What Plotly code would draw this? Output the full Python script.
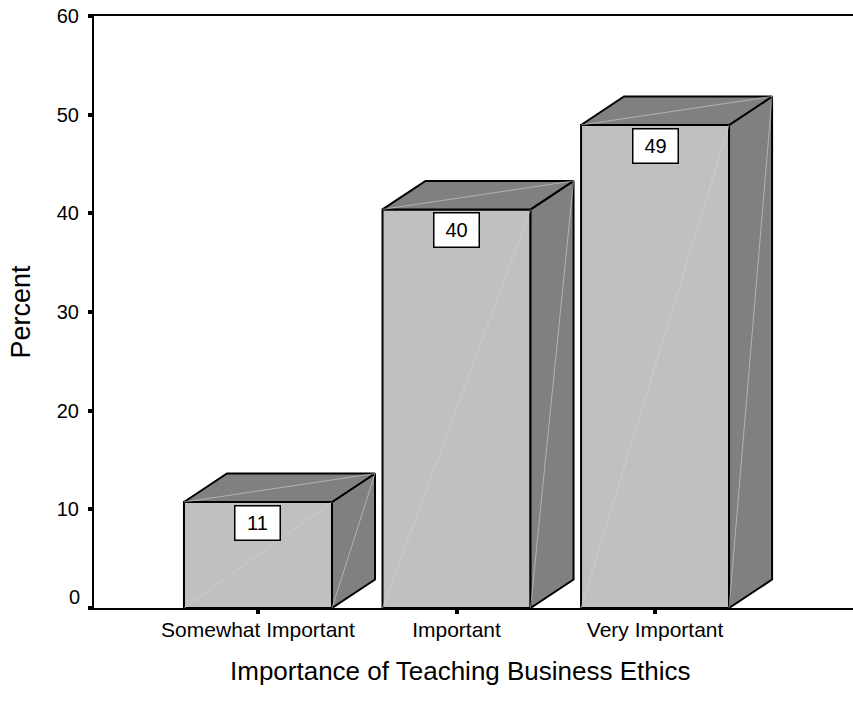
import plotly.graph_objects as go

categories = ["Somewhat Important", "Important", "Very Important"]
values = [10.74, 40.4, 48.95]
labels = ["11", "40", "49"]
y_ticks = [0, 10, 20, 30, 40, 50, 60]

FRONT = "#c0c0c0"
SHADE = "#808080"
EDGE = "#000000"
HAIR = "#d4d4d4"
FONT = "Liberation Sans, Arial, sans-serif"
half = 74 / 198.5
dx = 43 / 198.5
dy = 28.5 / 9.867

fig = go.Figure()
for i, v in enumerate(values):
    l, r = i - half, i + half
    faces = [
        ([l, r, r, l, l], [0, 0, v, v, 0], FRONT),
        ([r, r + dx, r + dx, r, r], [0, dy, v + dy, v, 0], SHADE),
        ([l, r, r + dx, l + dx, l], [v, v, v + dy, v + dy, v], SHADE),
    ]
    for xs, ys, c in faces:
        fig.add_trace(go.Scatter(x=xs, y=ys, mode="lines", fill="toself", fillcolor=c,
                                 line=dict(color=EDGE, width=2), hoverinfo="skip", showlegend=False))
    diagonals = [([l, r], [0, v]), ([r, r + dx], [0, v + dy]), ([l, r + dx], [v, v + dy])]
    for xs, ys in diagonals:
        fig.add_trace(go.Scatter(x=xs, y=ys, mode="lines", line=dict(color=HAIR, width=0.6),
                                 hoverinfo="skip", showlegend=False))
    fig.add_annotation(x=i, y=v, yref="y", xref="x", text=labels[i], showarrow=False, yanchor="top", yshift=-3,
                       width=44, height=33, bgcolor="white", bordercolor="black", borderwidth=1.5, borderpad=0,
                       font=dict(size=20, color="black", family=FONT))

fig.add_annotation(x=-0.826, y=0, xref="x", yref="y", text="0", showarrow=False, xanchor="right", xshift=-12,
                   yshift=11, font=dict(size=20, color="black", family=FONT))
fig.add_annotation(x=0.4835, y=0, xref="paper", yref="paper", yanchor="middle", yshift=-63, showarrow=False,
                   text="Importance of Teaching Business Ethics", font=dict(size=26, color="black", family=FONT))

fig.update_layout(
    width=853, height=713, margin=dict(l=94, r=0, t=16, b=105, pad=0),
    plot_bgcolor="white", paper_bgcolor="white", showlegend=False,
    font=dict(family=FONT, color="black"),
    xaxis=dict(range=[-0.826, 2.997], tickmode="array", tickvals=[0, 1, 2], ticktext=categories,
               ticks="outside", ticklen=4, tickwidth=4, tickcolor="black", showgrid=False, zeroline=False,
               showline=True, mirror=True, linecolor="black", linewidth=2, tickfont=dict(size=21),
               ticklabelstandoff=-2),
    yaxis=dict(range=[0, 60], tickmode="array", tickvals=y_ticks,
               ticktext=[""] + [str(t) for t in y_ticks[1:]], ticklabelstandoff=5,
               ticks="outside", ticklen=4, tickwidth=4, tickcolor="black", showgrid=False, zeroline=False,
               showline=True, linecolor="black", linewidth=2, tickfont=dict(size=20),
               title=dict(text="Percent", font=dict(size=27), standoff=18)),
)
fig.write_html("out.html", post_script="document.body.style.margin='0';",
               config=dict(displayModeBar=False))
